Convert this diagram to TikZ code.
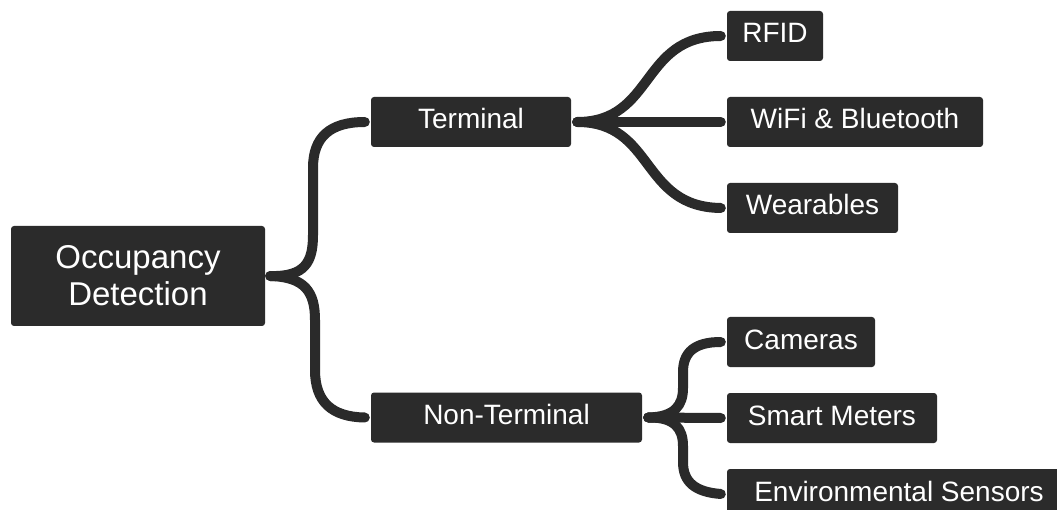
\documentclass[tikz,border=0pt]{standalone}
\usepackage{fontspec}
\setmainfont{Liberation Sans}
\definecolor{boxfill}{HTML}{2B2B2B}
\definecolor{linecol}{HTML}{2A2A2A}
\begin{document}
\begin{tikzpicture}[x=1pt,y=-1pt,
  box/.style={fill=boxfill,text=white,rounded corners=3pt,inner sep=0pt,anchor=center},
  leaf/.style={box,minimum height=50pt,font=\fontsize{28}{32}\selectfont,text height=20pt,text depth=6pt},
  conn/.style={draw=linecol,line width=10pt,line cap=round}]
\useasboundingbox (0,0) rectangle (1057,510);
\node[box,minimum width=254pt,minimum height=100pt,align=center,font=\fontsize{33}{37}\selectfont] (root) at (138,276) {Occupancy\\Detection};
\node[leaf,minimum width=200pt] (term) at (471,122) {Terminal};
\node[leaf,minimum width=271pt] (nonterm) at (506.5,417.5) {Non-Terminal};
\node[leaf,minimum width=96pt] (rfid) at (775,36) {RFID};
\node[leaf,minimum width=256pt] (wifi) at (855,122) {WiFi \& Bluetooth};
\node[leaf,minimum width=171pt] (wear) at (812.5,208) {Wearables};
\node[leaf,minimum width=148pt] (cam) at (801,342) {Cameras};
\node[leaf,minimum width=210pt] (smart) at (832,418) {Smart Meters};
\node[leaf,minimum width=344pt] (env) at (899,494) {Environmental Sensors};
% root to children
\draw[conn] ([xshift=5pt]root.east) .. controls (305,277) and (313,262) .. (313,235) -- (313,168) .. controls (313,137) and (330,122) .. ([xshift=-6pt]term.west);
\draw[conn] ([xshift=5pt]root.east) .. controls (305,277) and (315,292) .. (315,320) -- (315,370) .. controls (315,402) and (332,417) .. ([xshift=-6pt]nonterm.west);
% terminal to children
\draw[conn] ([xshift=6pt]term.east) .. controls (655,122) and (640,36) .. ([xshift=-6pt]rfid.west);
\draw[conn] ([xshift=6pt]term.east) -- ([xshift=-6pt]wifi.west);
\draw[conn] ([xshift=6pt]term.east) .. controls (655,122) and (640,207) .. ([xshift=-6pt]wear.west);
% non-terminal to children
\draw[conn] ([xshift=6pt]nonterm.east) .. controls (675,417) and (683,405) .. (683,388) -- (683,372) .. controls (683,352) and (695,342) .. ([xshift=-6pt]cam.west);
\draw[conn] ([xshift=6pt]nonterm.east) -- ([xshift=-6pt]smart.west);
\draw[conn] ([xshift=6pt]nonterm.east) .. controls (675,417) and (683,429) .. (683,446) -- (683,462) .. controls (683,482) and (695,492) .. ([xshift=-6pt]env.west);
\end{tikzpicture}
\end{document}
